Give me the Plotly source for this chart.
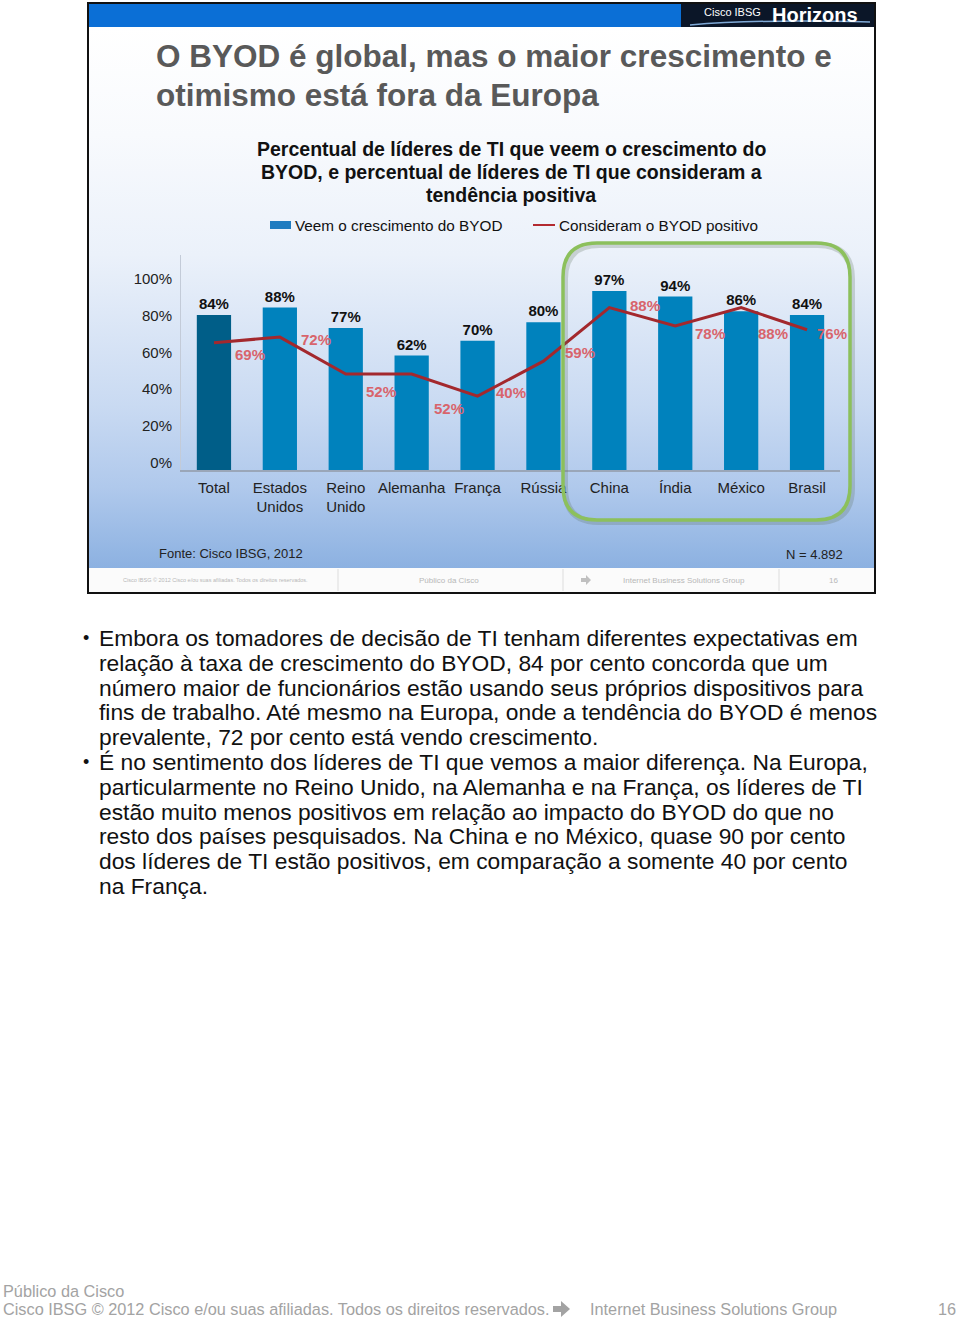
import plotly.graph_objects as go

categorias = ["Total", "Estados<br>Unidos", "Reino<br>Unido", "Alemanha", "França",
              "Rússia", "China", "Índia", "México", "Brasil"]
veem_crescimento = [84, 88, 77, 62, 70, 80, 97, 94, 86, 84]
consideram_positivo = [69, 72, 52, 52, 40, 59, 88, 78, 88, 76]
ticks_y = [0, 20, 40, 60, 80, 100]
rotulos_y = ["0%", "20%", "40%", "60%", "80%", "100%"]

# deslocamento (px) dos rótulos da linha em relação ao ponto
desloc_x = [36, 36, 35, 37, 33, 37, 36, 35, 32, 25]
desloc_y = [-12, -2, -17, -34, 4, 9, 2, -7, -26, -4]

texto = [
    ("•", "Embora os tomadores de decisão de TI tenham diferentes expectativas em"),
    ("", "relação à taxa de crescimento do BYOD, 84 por cento concorda que um"),
    ("", "número maior de funcionários estão usando seus próprios dispositivos para"),
    ("", "fins de trabalho. Até mesmo na Europa, onde a tendência do BYOD é menos"),
    ("", "prevalente, 72 por cento está vendo crescimento."),
    ("•", "É no sentimento dos líderes de TI que vemos a maior diferença. Na Europa,"),
    ("", "particularmente no Reino Unido, na Alemanha e na França, os líderes de TI"),
    ("", "estão muito menos positivos em relação ao impacto do BYOD do que no"),
    ("", "resto dos países pesquisados. Na China e no México, quase 90 por cento"),
    ("", "dos líderes de TI estão positivos, em comparação a somente 40 por cento"),
    ("", "na França."),
]

subtitulo = ["Percentual de líderes de TI que veem o crescimento do",
             "BYOD, e percentual de líderes de TI que consideram a",
             "tendência positiva"]

W, H = 960, 1319
FONTE = "Liberation Sans, Arial, sans-serif"


def caixa_arredondada(x0, y0, x1, y1, r):
    return (f"M {x0+r},{y0} L {x1-r},{y0} Q {x1},{y0} {x1},{y0+r} "
            f"L {x1},{y1-r} Q {x1},{y1} {x1-r},{y1} L {x0+r},{y1} "
            f"Q {x0},{y1} {x0},{y1-r} L {x0},{y0+r} Q {x0},{y0} {x0+r},{y0} Z")


def txt(x, y, t, size, color="#111111", anc="left"):
    return dict(x=x, y=y, xref="x", yref="y", xanchor=anc, yanchor="middle",
                showarrow=False, text=t, font=dict(size=size, color=color, family=FONTE))


fig = go.Figure()

# fundo do slide (degradê)
fig.add_trace(go.Scatter(
    x=[88, 875, 875, 88, 88], y=[27, 27, 568, 568, 27],
    mode="lines", line=dict(width=0), fill="toself",
    fillgradient=dict(type="vertical", start=27, stop=568,
                      colorscale=[[0, "#ffffff"], [0.2, "#f8fafd"], [0.42, "#ebf1fa"],
                                  [0.7, "#c9daf2"], [0.85, "#b0c9ec"], [1, "#8cb1e1"]]),
    hoverinfo="skip", showlegend=False, xaxis="x", yaxis="y"))

cores = ["#005e88"] + ["#0082bd"] * (len(categorias) - 1)
fig.add_trace(go.Bar(
    x=categorias, y=veem_crescimento, xaxis="x2", yaxis="y2",
    marker=dict(color=cores, line=dict(width=0)), width=0.52,
    text=[f"<b>{v}%</b>" for v in veem_crescimento], textposition="outside",
    textfont=dict(size=15, color="#111111", family=FONTE), cliponaxis=False,
    showlegend=False, hoverinfo="skip"))

fig.add_trace(go.Scatter(
    x=categorias, y=consideram_positivo, xaxis="x2", yaxis="y2",
    mode="lines", line=dict(color="#a3282d", width=3),
    showlegend=False, hoverinfo="skip"))

anots = []
for i, v in enumerate(consideram_positivo):
    anots.append(dict(x=i, y=v, xref="x2", yref="y2", text=f"<b>{v}%</b>",
                      showarrow=False, xshift=desloc_x[i], yshift=desloc_y[i],
                      font=dict(size=15, color="#d8646c", family=FONTE)))

# títulos
anots.append(txt(154, 56, "<b>O BYOD é global, mas o maior crescimento e</b>", 31.5, "#595959"))
anots.append(txt(154, 95, "<b>otimismo está fora da Europa</b>", 31.5, "#595959"))
for k, linha in enumerate(subtitulo):
    anots.append(txt(511, 149 + k * 23, f"<b>{linha}</b>", 19.5, "#111111", "center"))

# legenda manual
anots.append(txt(293, 225, "Veem o crescimento do BYOD", 15.3))
anots.append(txt(557, 225, "Consideram o BYOD positivo", 15.3))

anots.append(txt(157, 553, "Fonte: Cisco IBSG, 2012", 13, "#222222"))
anots.append(txt(845, 554, "N = 4.892", 13, "#222222", "right"))

# logo
anots.append(txt(732, 12, "Cisco IBSG", 11, "#ffffff", "center"))
anots.append(txt(815, 15, "<b>Horizons</b>", 20, "#ffffff", "center"))

# rodapé interno do slide
for cx, t, s in [(215, "Cisco IBSG © 2012 Cisco e/ou suas afiliadas. Todos os direitos reservados.", 5.5),
                 (449, "Público da Cisco", 8), (684, "Internet Business Solutions Group", 8),
                 (833, "16", 8)]:
    anots.append(txt(cx, 580, t, s, "#b8b8b8", "center"))

# texto do corpo
for k, (b, linha) in enumerate(texto):
    yy = 638 + k * 24.8
    if b:
        anots.append(txt(86, yy, b, 18, "#111111", "center"))
    anots.append(txt(97, yy, linha, 22.8))

# rodapé da página
anots.append(txt(1, 1291, "Público da Cisco", 16.3, "#a3a3a3"))
anots.append(txt(1, 1309, "Cisco IBSG © 2012 Cisco e/ou suas afiliadas. Todos os direitos reservados.",
                 16.3, "#a3a3a3"))
anots.append(txt(588, 1309, "Internet Business Solutions Group", 16.3, "#a3a3a3"))
anots.append(txt(958, 1309, "16", 16.3, "#a3a3a3", "right"))

shapes = [
    # faixa azul do topo
    dict(type="rect", xref="x", yref="y", x0=88, x1=875, y0=3, y1=27,
         fillcolor="#0b6fd6", line=dict(width=0), layer="above"),
    # logo
    dict(type="rect", xref="x", yref="y", x0=681, x1=874, y0=3, y1=27,
         fillcolor="#0b1628", line=dict(width=0), layer="above"),
    dict(type="path", xref="x", yref="y", path="M 690,25 Q 760,19 870,22",
         line=dict(color="#7fa9d6", width=1.5), layer="above"),
    # rodapé interno
    dict(type="rect", xref="x", yref="y", x0=88, x1=875, y0=568, y1=592,
         fillcolor="#fbfbfb", line=dict(width=0), layer="above"),
    # caixa verde (sombra + linha)
    dict(type="path", xref="x", yref="y", path=caixa_arredondada(565, 245, 852, 522, 34),
         line=dict(color="rgba(90,110,90,0.25)", width=6), layer="above"),
    dict(type="path", xref="x", yref="y", path=caixa_arredondada(563, 243, 850, 520, 34),
         line=dict(color="#8cc05c", width=3.5), layer="above"),
    # legenda
    dict(type="rect", xref="x", yref="y", x0=270, x1=291, y0=221, y1=229,
         fillcolor="#1f7cc0", line=dict(width=0), layer="above"),
    dict(type="line", xref="x", yref="y", x0=533, x1=555, y0=225, y1=225,
         line=dict(color="#b32a30", width=2), layer="above"),
    # moldura
    dict(type="rect", xref="x", yref="y", x0=88, x1=875, y0=3, y1=593,
         line=dict(color="#111111", width=2), layer="above"),
    # setas
    dict(type="path", xref="x", yref="y",
         path="M 553,1306 L 561,1306 L 561,1301 L 570,1309 L 561,1317 L 561,1312 L 553,1312 Z",
         fillcolor="#a3a3a3", line=dict(width=0), layer="above"),
    dict(type="path", xref="x", yref="y",
         path="M 581,578 L 586,578 L 586,575 L 591,580 L 586,585 L 586,582 L 581,582 Z",
         fillcolor="#c0c0c0", line=dict(width=0), layer="above"),
]
for xd in [338, 563, 779]:
    shapes.append(dict(type="line", xref="x", yref="y", x0=xd, x1=xd, y0=569, y1=591,
                       line=dict(color="#dddddd", width=1), layer="above"))

fig.update_layout(
    width=W, height=H, margin=dict(l=0, r=0, t=0, b=0),
    paper_bgcolor="#ffffff", plot_bgcolor="rgba(0,0,0,0)",
    font=dict(family=FONTE),
    xaxis=dict(range=[0, W], domain=[0, 1], visible=False, fixedrange=True),
    yaxis=dict(range=[H, 0], domain=[0, 1], visible=False, fixedrange=True),
    xaxis2=dict(domain=[181 / W, 840 / W], anchor="y2", type="category",
                range=[-0.5, 9.5], showline=True, linecolor="#9aa6b8", linewidth=1.5,
                ticks="", showgrid=False, ticklabelstandoff=3,
                tickfont=dict(size=15, color="#222222", family=FONTE)),
    yaxis2=dict(domain=[(H - 470) / H, (H - 255) / H], anchor="x2", range=[0, 116.5],
                tickvals=ticks_y, ticktext=rotulos_y, showgrid=False, zeroline=False,
                showline=True, linecolor="#c3cbd8", ticks="", ticklabelstandoff=5,
                ticklabelshift=-7,
                tickfont=dict(size=15, color="#222222", family=FONTE)),
    annotations=anots, shapes=shapes,
)

# a página padrão tem margem de 8px no <body>; zera para o gráfico ocupar a janela
fig.write_html("out.html", config={"displayModeBar": False},
               post_script="document.body.style.margin='0';document.body.style.overflow='hidden';")
